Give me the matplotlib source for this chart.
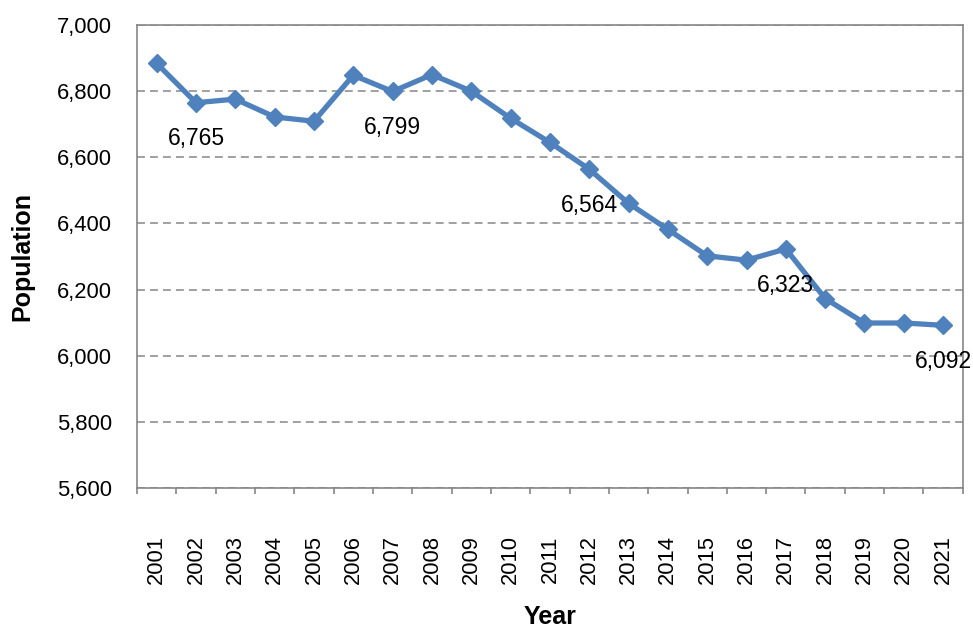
import matplotlib
matplotlib.use("Agg")
import matplotlib.pyplot as plt
import matplotlib.ticker as ticker

# ── Data ──────────────────────────────────────────────────────────────────────
years = [str(y) for y in range(2001, 2022)]
population = [6884, 6765, 6776, 6722, 6709, 6848, 6799, 6850, 6800, 6718,
              6645, 6564, 6461, 6382, 6302, 6289, 6323, 6173, 6099, 6099, 6092]
labelled_years = ["2002", "2007", "2012", "2017", "2021"]

# ── Style ─────────────────────────────────────────────────────────────────────
LINE_BLUE = "#4F81BD"
AXIS_GREY = "#868686"
TEXT = "#000000"
plt.rcParams["font.family"] = ["Liberation Sans", "DejaVu Sans"]

fig, ax = plt.subplots(figsize=(9.73, 6.33), dpi=100)
fig.subplots_adjust(left=0.1408, right=0.9895, top=0.9605, bottom=0.229)

x = list(range(len(years)))
ax.plot(x, population, color=LINE_BLUE, linewidth=3.8, marker="D",
        markersize=9.5, markeredgewidth=1, markeredgecolor=LINE_BLUE,
        markerfacecolor=LINE_BLUE, zorder=4, clip_on=False)

# data labels below selected points
for i, (yr, val) in enumerate(zip(years, population)):
    if yr in labelled_years:
        ax.annotate(f"{val:,}", (i, val), xytext=(0, -26),
                    textcoords="offset points", ha="center", va="center",
                    fontsize=16.5, color=TEXT, zorder=6, annotation_clip=False)

# ── Axes ──────────────────────────────────────────────────────────────────────
ax.set_ylim(5600, 7000)
ax.set_xlim(-0.5, len(years) - 0.5)
ax.yaxis.set_major_locator(ticker.MultipleLocator(200))
ax.yaxis.set_major_formatter(ticker.StrMethodFormatter("{x:,.0f}"))

ax.yaxis.grid(True, color=AXIS_GREY, linewidth=1.1, linestyle=(0, (5.2, 3.3)))
ax.set_axisbelow(True)

for side in ["top", "bottom", "left", "right"]:
    ax.spines[side].set_color(AXIS_GREY)
    ax.spines[side].set_linewidth(1.2)
    ax.spines[side].set_zorder(3)

ax.set_xticks(x)
ax.set_xticklabels(years, rotation=90)
ax.set_xticks([i - 0.5 for i in range(len(years) + 1)], minor=True)
ax.tick_params(axis="x", which="major", length=0, pad=34, labelsize=15.8,
               colors=TEXT)
ax.tick_params(axis="x", which="minor", length=4.3, width=1.2,
               color=AXIS_GREY, direction="out")
ax.tick_params(axis="y", length=0, pad=18, labelsize=15.8, colors=TEXT)

ax.set_xlabel("Year", fontsize=18, fontweight="bold", labelpad=15)
ax.set_ylabel("Population", fontsize=18, fontweight="bold", labelpad=16)

fig.savefig("out.png", dpi=100, facecolor="white")
